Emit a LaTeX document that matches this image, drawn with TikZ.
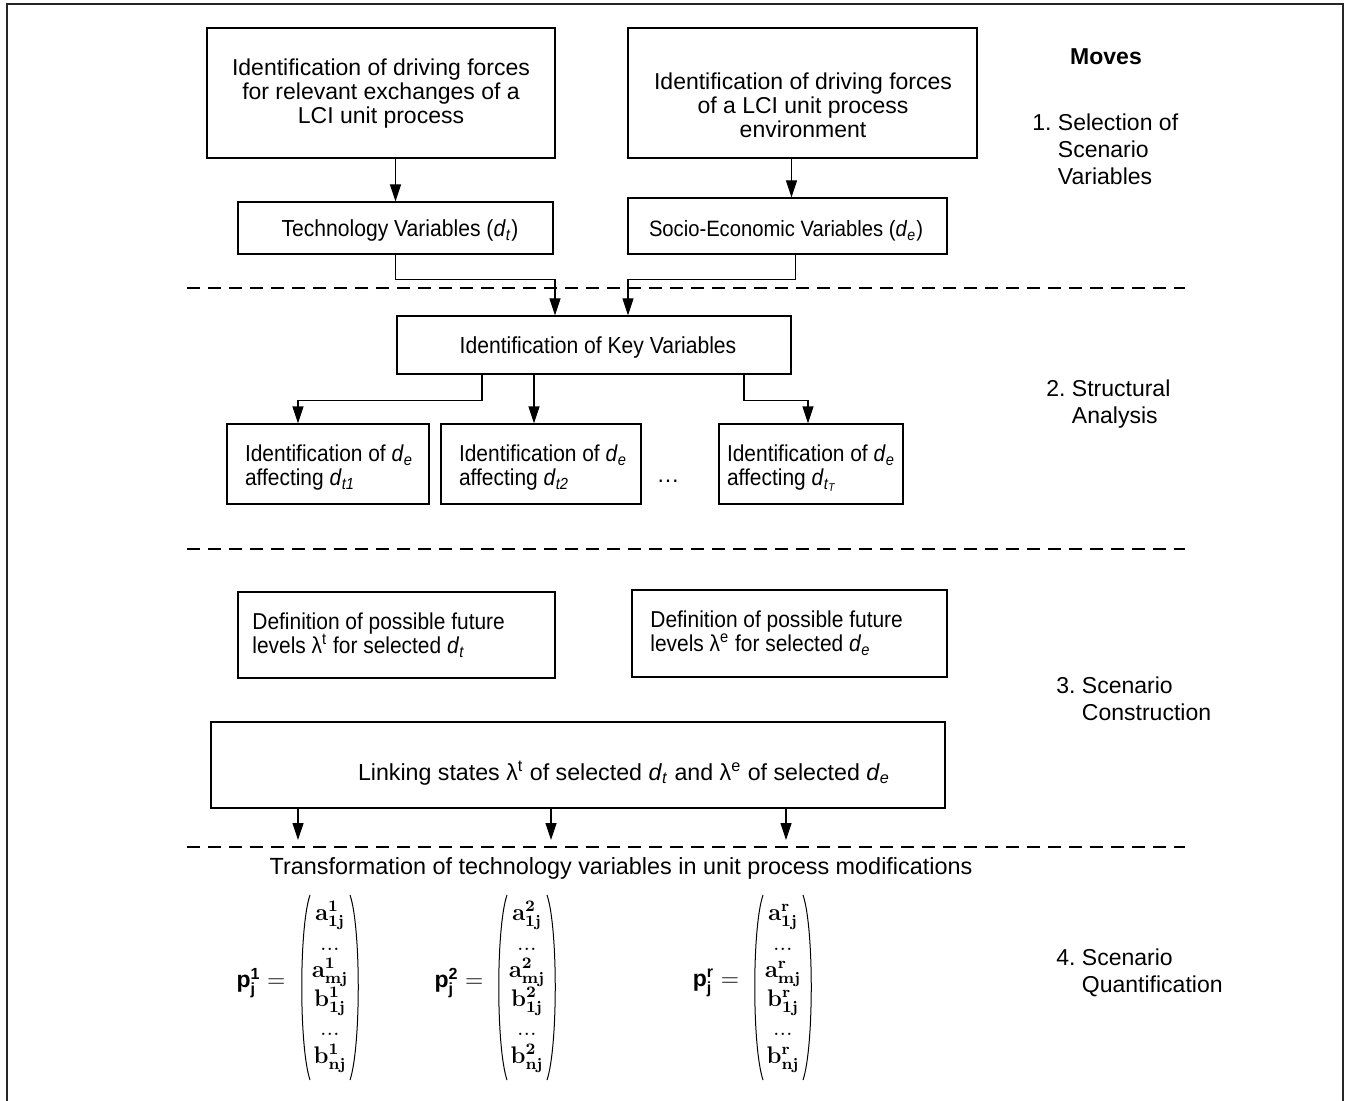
\documentclass[tikz,border=0pt]{standalone}
\usepackage{amsmath}
\usepackage[no-math]{fontspec}
\setmainfont{Liberation Sans}
\newfontfamily\narrowfont{Liberation Sans}[FakeStretch=0.91]
\usetikzlibrary{arrows.meta,calc}
\newcommand{\dd}[1]{\textit{d}\textsubscript{\textit{#1}}}
\newcommand{\lam}[1]{λ\textsuperscript{#1}}
\newcommand{\mcol}[1]{$\begin{array}{@{}c@{}}
\mathbf{a}^{\mathbf{#1}}_{\mathbf{1j}}\\[1pt]
\mathbf{...}\\
\mathbf{a}^{\mathbf{#1}}_{\mathbf{mj}}\\
\mathbf{b}^{\mathbf{#1}}_{\mathbf{1j}}\\[1pt]
\mathbf{...}\\
\mathbf{b}^{\mathbf{#1}}_{\mathbf{nj}}
\end{array}$}
\begin{document}
\begin{tikzpicture}[x=0.5pt,y=-0.5pt,
  box/.style={draw,line width=0.6pt,inner sep=0pt},
  txt/.style={inner sep=0pt,align=center,font=\fontsize{#1}{12}\selectfont},
  txt/.default=11.5,
  ntxt/.style={inner sep=0pt,align=center,font=\narrowfont\fontsize{#1}{12}\selectfont},
  ntxt/.default=11.5,
  arr/.style={line width=0.6pt,-{Triangle[length=8.5pt,width=5.5pt]}},
  sep/.style={line width=1.2pt,dash pattern=on 6.5pt off 4pt},
  frame/.style={line width=0.8pt,draw=black!85},
  paren/.style={line width=0.5pt},
  move/.style={inner sep=0pt,anchor=west,font=\fontsize{11.5}{13.5}\selectfont},
  mat/.style={inner sep=0pt,font=\fontsize{11.5}{13.8}\selectfont}]
\useasboundingbox (0,0) rectangle (1347,1101);

% outer frame
\coordinate (f1) at (7,1101);
\coordinate (f2) at (7,4);
\coordinate (f3) at (1343,4);
\coordinate (f4) at (1343,1101);
\draw[frame] (f1) -- (f2) -- (f3) -- (f4);

% separators
\coordinate (s1a) at (187,288); \coordinate (s1b) at (1185,288);
\coordinate (s2a) at (187,549); \coordinate (s2b) at (1185,549);
\coordinate (s3a) at (187,847); \coordinate (s3b) at (1185,847);
\draw[sep] (s1a) -- (s1b);
\draw[sep] (s2a) -- (s2b);
\draw[sep] (s3a) -- (s3b);

% step 1
\node[box,minimum width=174pt,minimum height=65pt] (A) at (381,93) {};
\node[txt] (At) at (381,94)
  {Identification of driving forces\\for relevant exchanges of a\\LCI unit process};
\node[box,minimum width=174.5pt,minimum height=65pt] (B) at (802.5,93) {};
\node[txt] (Bt) at (803,105)
  {Identification of driving forces\\of a LCI unit process\\environment};
\node[box,minimum width=157.5pt,minimum height=26pt] (Tech) at (395.5,228) {};
\node[ntxt=11.6] (Techt) at (400,231) {Technology Variables (\dd{t})};
\node[box,minimum width=159.5pt,minimum height=28pt] (Socio) at (787.5,226) {};
\node[ntxt=11.1] (Sociot) at (786,231) {Socio-Economic Variables (\dd{e})};

\draw[arr] (Tech.north |- A.south) -- (Tech.north);
\draw[arr] ($(Socio.north |- B.south)+(4,0)$) -- ($(Socio.north)+(4,0)$);

% step 2
\node[box,minimum width=197pt,minimum height=29pt] (Key) at (594,345) {};
\node[ntxt=11.6] (Keyt) at (598,348) {Identification of Key Variables};
\draw[arr] (Tech.south) -- ++(0,25) -| ($(Key.north)+(-39,0)$);
\draw[arr] ($(Socio.south)+(8,0)$) -- ++(0,25) -| ($(Key.north)+(34,0)$);

\node[box,minimum width=101pt,minimum height=40pt] (R1) at (328,464) {};
\node[ntxt,align=left] (R1t) at (329,468)
  {Identification of \dd{e}\\affecting \textit{d}\textsubscript{\textit{t1}}};
\node[box,minimum width=100pt,minimum height=40pt] (R2) at (541,464) {};
\node[ntxt,align=left] (R2t) at (543,468)
  {Identification of \dd{e}\\affecting \textit{d}\textsubscript{\textit{t2}}};
\node[box,minimum width=92pt,minimum height=40pt] (R3) at (811,464) {};
\node[ntxt,align=left] (R3t) at (811,468)
  {Identification of \dd{e}\\affecting \textit{d}\textsubscript{\textit{t}\textsubscript{\textit{T}}}};
\node[txt] (dots) at (668,481) {…};

\draw[arr] ($(Key.south)+(-112,0)$) -- ++(0,26) -| ($(R1.north)+(-30,0)$);
\draw[arr] ($(Key.south)+(-60,0)$) coordinate (k2) -- (k2 |- R2.north);
\draw[arr] ($(Key.south)+(150,0)$) -- ++(0,26) -| ($(R3.north)+(-3,0)$);

% step 3
\node[box,minimum width=158.5pt,minimum height=43pt] (D1) at (396.5,635) {};
\node[ntxt,align=left,anchor=west] (D1t) at (252,635)
  {Definition of possible future\\levels \lam{t} for selected \dd{t}};
\node[box,minimum width=157.5pt,minimum height=43.5pt] (D2) at (789.5,633.5) {};
\node[ntxt,align=left,anchor=west] (D2t) at (650,633)
  {Definition of possible future\\levels \lam{e} for selected \dd{e}};
\node[box,minimum width=367pt,minimum height=43pt] (L) at (578,765) {};
\node[txt=11.6] (Lt) at (624,773)
  {Linking states \lam{t} of selected \dd{t} and \lam{e} of selected \dd{e}};

\coordinate (t1) at (298,840);
\coordinate (t2) at (551,840);
\coordinate (t3) at (786,840);
\draw[arr] (t1 |- L.south) -- (t1);
\draw[arr] (t2 |- L.south) -- (t2);
\draw[arr] (t3 |- L.south) -- (t3);

% step 4
\node[txt=11.7] (Tr) at (621,868)
  {Transformation of technology variables in unit process modifications};
\node[mat] (P1) at (261,983) {$\textbf{p}^{\textbf{1}}_{\textbf{j}} =$};
\node[mat] (M1) at (330,987) {\mcol{1}};
\node[mat] (P2) at (459,983) {$\textbf{p}^{\textbf{2}}_{\textbf{j}} =$};
\node[mat] (M2) at (527,987) {\mcol{2}};
\node[mat] (P3) at (716,983) {$\textbf{p}^{\textbf{r}}_{\textbf{j}} =$};
\node[mat] (M3) at (783,987) {\mcol{r}};
\foreach \m in {M1,M2,M3}{
  \draw[paren] ($(\m.center)+(-20,-92)$) .. controls ($(\m.center)+(-31,-60)$) and ($(\m.center)+(-31,60)$) .. ($(\m.center)+(-20,93)$);
  \draw[paren] ($(\m.center)+(20,-92)$) .. controls ($(\m.center)+(31,-60)$) and ($(\m.center)+(31,60)$) .. ($(\m.center)+(20,93)$);
}

% moves column
\node[inner sep=0pt,font=\fontsize{11.5}{13.5}\selectfont\bfseries] (Mv) at (1106,57) {Moves};
\node[move] (m1) at (1032,152)
  {\begin{tabular}{@{}l@{\ }l@{}}1. & Selection of\\ & Scenario\\ & Variables\end{tabular}};
\node[move] (m2) at (1046,405)
  {\begin{tabular}{@{}l@{\ }l@{}}2. & Structural\\ & Analysis\end{tabular}};
\node[move] (m3) at (1056,702)
  {\begin{tabular}{@{}l@{\ }l@{}}3. & Scenario\\ & Construction\end{tabular}};
\node[move] (m4) at (1056,974)
  {\begin{tabular}{@{}l@{\ }l@{}}4. & Scenario\\ & Quantification\end{tabular}};
\end{tikzpicture}
\end{document}
